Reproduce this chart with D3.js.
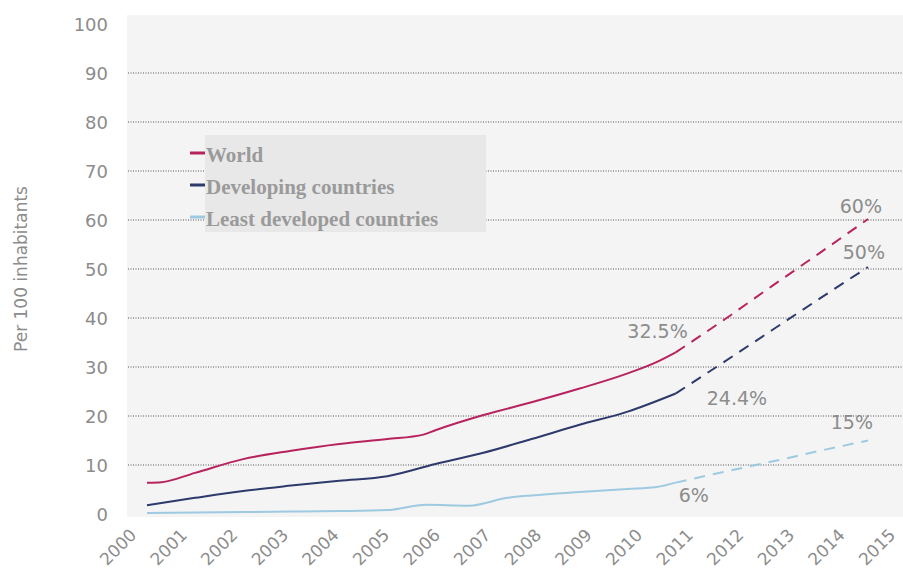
<!DOCTYPE html>
<html>
<head>
<meta charset="utf-8">
<script src="https://cdn.jsdelivr.net/npm/d3@7"></script>
<style>
  body { margin: 0; background: #fff; }
  text { font-family: "DejaVu Sans", sans-serif; }
</style>
</head>
<body>
<div id="container"></div>
<script>
/* DATA */
const yearLabels = ["2000","2001","2002","2003","2004","2005","2006","2007",
  "2008","2009","2010","2011","2012","2013","2014","2015"]
const yTicks = [0, 10, 20, 30, 40, 50, 60, 70, 80, 90, 100]
const gridValues = [10, 20, 30, 40, 50, 60, 70, 80, 90]

// [year, per 100 inhabitants]
const worldActual = [[2000, 6.4], [2000.3, 6.5], [2001, 8.4], [2002, 11.2], [2003, 12.9],
  [2004, 14.3], [2005, 15.3], [2005.75, 16.2], [2006, 17.1], [2007, 20.2], [2008, 22.8],
  [2009, 25.6], [2010, 28.7], [2010.6, 31.0], [2011, 33.0]]
const worldTarget = [[2011, 33.0], [2012, 39.6], [2013, 46.5], [2014, 53.3], [2015, 60.2]]

const developingActual = [[2000, 1.8], [2001, 3.3], [2002, 4.7], [2003, 5.8], [2004, 6.8],
  [2005, 7.7], [2006, 10.2], [2007, 12.5], [2008, 15.3], [2009, 18.2], [2010, 20.9], [2011, 24.6]]
const developingTarget = [[2011, 24.6], [2012, 31.0], [2013, 37.5], [2014, 44.0], [2015, 50.4]]

const ldcActual = [[2000, 0.2], [2001, 0.3], [2002, 0.4], [2003, 0.5], [2004, 0.6], [2005, 0.8],
  [2005.8, 1.9], [2006.7, 1.7], [2007.5, 3.3], [2008, 3.8], [2009, 4.5], [2010, 5.1],
  [2010.6, 5.5], [2011, 6.4]]
const ldcTarget = [[2011, 6.4], [2012, 8.6], [2013, 10.7], [2014, 12.9], [2015, 15.0]]

const seriesNames = ["World", "Developing countries", "Least developed countries"]
const annotations = ["32.5%", "24.4%", "6%", "15%", "60%", "50%"]

/* CONSTANTS */
const width = 903, height = 571
const colors = ["#b8235f", "#2d3a6b", "#9ecae1"]
const labelGray = "#8c8c8c"

const svg = d3.select("#container")
  .append("svg")
  .attr("width", width)
  .attr("height", height)

// SCALES
const xScale = d3.scaleLinear().domain([2000, 2015]).range([147, 868])
const xLabels = d3.scalePoint().domain(yearLabels).range([137, 896])
const yScale = d3.scaleLinear().domain([0, 100]).range([514, 24])

// plot background
svg.append("rect")
  .attr("x", 127).attr("y", 15)
  .attr("width", width - 127).attr("height", 502)
  .attr("fill", "#f4f4f4")

// gridlines
svg.selectAll(".grid")
  .data(gridValues)
  .join("line")
  .attr("class", "grid")
  .attr("x1", 128).attr("x2", width)
  .attr("y1", d => yScale(d)).attr("y2", d => yScale(d))
  .attr("stroke", "#555")
  .attr("stroke-width", 1)
  .attr("stroke-dasharray", "1,1.5")

// Y axis
const yAxis = d3.axisLeft(yScale).tickValues(yTicks).tickSize(0).tickPadding(0)
const yG = svg.append("g")
  .attr("transform", "translate(108,0)")
  .call(yAxis)
yG.select(".domain").remove()
yG.selectAll("text")
  .attr("dy", "0.38em")
  .attr("fill", labelGray)
  .style("font-size", "18px")
  .style("font-family", "DejaVu Sans, sans-serif")

// X axis (labels only)
const xAxis = d3.axisBottom(xLabels).tickSize(0)
const xG = svg.append("g")
  .attr("transform", "translate(0,517)")
  .call(xAxis)
xG.select(".domain").remove()
xG.selectAll("text")
  .attr("x", 0).attr("y", 0).attr("dy", 0)
  .attr("transform", "translate(0,19) rotate(-45)")
  .style("text-anchor", "end")
  .attr("fill", labelGray)
  .style("font-size", "17px")
  .style("font-family", "DejaVu Sans, sans-serif")

// y axis label
svg.append("text")
  .attr("text-anchor", "middle")
  .attr("transform", "translate(27,269) rotate(-90)")
  .attr("fill", labelGray)
  .style("font-size", "17px")
  .text("Per 100 inhabitants")

// LINES
const lineGen = d3.line()
  .x(d => xScale(d[0]))
  .y(d => yScale(d[1]))
  .curve(d3.curveMonotoneX)

const actual = [worldActual, developingActual, ldcActual]
const target = [worldTarget, developingTarget, ldcTarget]

svg.selectAll(".actual")
  .data(actual)
  .join("path")
  .attr("class", "actual")
  .attr("fill", "none")
  .attr("stroke", (d, i) => colors[i])
  .attr("stroke-width", 2)
  .attr("d", d => lineGen(d))

svg.selectAll(".target")
  .data(target)
  .join("path")
  .attr("class", "target")
  .attr("fill", "none")
  .attr("stroke", (d, i) => colors[i])
  .attr("stroke-width", 2)
  .attr("stroke-dasharray", "11,8")
  .attr("d", d => lineGen(d))

// ANNOTATIONS: anchored to line ends
const annoPos = [
  { pt: worldActual[worldActual.length - 1], dx: 12, dy: -14, anchor: "end" },
  { pt: developingActual[developingActual.length - 1], dx: 31, dy: 12, anchor: "start" },
  { pt: ldcActual[ldcActual.length - 1], dx: 3, dy: 19, anchor: "start" },
  { pt: ldcTarget[ldcTarget.length - 1], dx: 5, dy: -12, anchor: "end" },
  { pt: worldTarget[worldTarget.length - 1], dx: 14, dy: -6, anchor: "end" },
  { pt: developingTarget[developingTarget.length - 1], dx: 17, dy: -8, anchor: "end" }
]
svg.selectAll(".anno")
  .data(annotations)
  .join("text")
  .attr("class", "anno")
  .attr("x", (d, i) => xScale(annoPos[i].pt[0]) + annoPos[i].dx)
  .attr("y", (d, i) => yScale(annoPos[i].pt[1]) + annoPos[i].dy)
  .attr("text-anchor", (d, i) => annoPos[i].anchor)
  .attr("fill", labelGray)
  .style("font-size", "19px")
  .text(d => d)

// LEGEND
const legend = svg.append("g").attr("transform", "translate(190,135)")
legend.append("rect")
  .attr("x", 15).attr("y", 0)
  .attr("width", 281).attr("height", 97)
  .attr("fill", "#e8e8e8")
const items = legend.selectAll(".item")
  .data(seriesNames)
  .join("g")
  .attr("class", "item")
  .attr("transform", (d, i) => `translate(0, ${18 + i * 32})`)
items.append("line")
  .attr("x1", 0).attr("x2", 15)
  .attr("stroke", (d, i) => colors[i])
  .attr("stroke-width", 3)
items.append("text")
  .attr("x", 16).attr("y", 9)
  .attr("fill", "#9a9a9a")
  .style("font-family", "Liberation Serif, Times New Roman, serif")
  .style("font-weight", "bold")
  .style("font-size", "21px")
  .text(d => d)
</script>
</body>
</html>
